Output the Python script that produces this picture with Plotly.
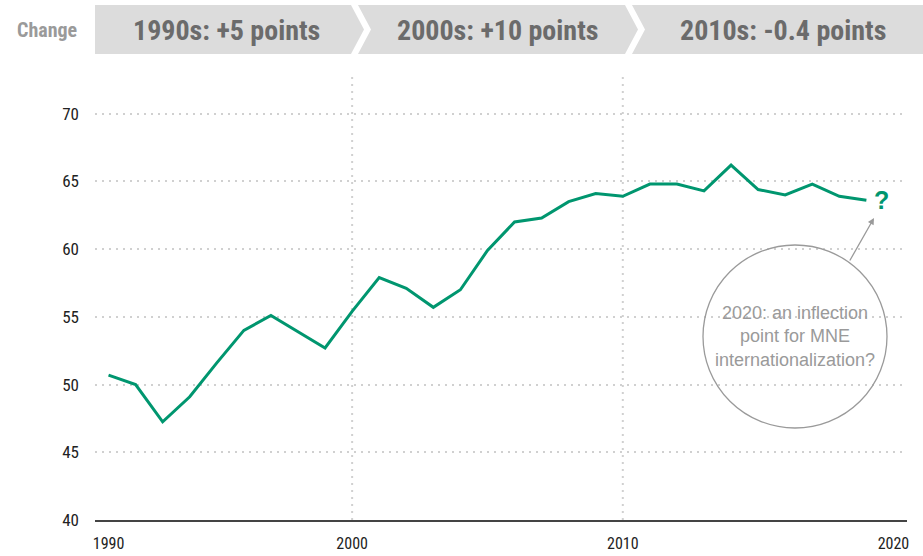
import plotly.graph_objects as go

years = list(range(1991, 2020))
tni = [50.7, 50.0, 47.25, 49.1, 51.6, 54.0, 55.1, 53.9, 52.7, 55.4,
       57.9, 57.1, 55.7, 57.0, 59.9, 62.0, 62.3, 63.5, 64.1, 63.9,
       64.8, 64.8, 64.3, 66.2, 64.4, 64.0, 64.8, 63.9, 63.6]

x_tick_vals = [1991, 2000, 2010, 2020]
x_tick_text = ["1990", "2000", "2010", "2020"]
y_tick_vals = [40, 45, 50, 55, 60, 65, 70]
decade_labels = ["1990s: +5 points", "2000s: +10 points", "2010s: -0.4 points"]
decade_grid = [2000, 2010]
header_label = "Change"
note_text = "2020: an inflection<br>point for MNE<br>internationalization?"

W, H = 923, 556
L, R, T, B = 95, 16, 73, 36
PW, PH = W - L - R, H - T - B

def px(x):
    return (x - L) / PW

def py(y):
    return (H - B - y) / PH

GREEN = "#00966f"
NARROW = "Liberation Sans Narrow, Arial Narrow, Roboto Condensed, Liberation Sans, sans-serif"
REG = "Liberation Sans, Arial, sans-serif"

fig = go.Figure()
fig.add_trace(go.Scatter(x=years, y=tni, mode="lines",
                         line=dict(color=GREEN, width=3), hoverinfo="skip",
                         showlegend=False))

shapes = []
for g in decade_grid:
    shapes.append(dict(type="line", xref="x", yref="paper", x0=g, x1=g, y0=0, y1=1,
                       line=dict(color="#d0d0d0", width=2, dash="2px,5px"), layer="below"))

# header chevrons
top, bot, mid = 5, 54, 29.5
def poly(pts):
    return "M " + " L ".join(f"{px(a):.5f},{py(b):.5f}" for a, b in pts) + " Z"

bands = [
    [(95, top), (351, top), (364, mid), (351, bot), (95, bot)],
    [(358, top), (625, top), (638, mid), (625, bot), (358, bot), (371, mid)],
    [(632, top), (923, top), (923, bot), (632, bot), (645, mid)],
]
for b in bands:
    shapes.append(dict(type="path", xref="paper", yref="paper", path=poly(b),
                       fillcolor="#dcdcdc", line=dict(width=0), layer="above"))

# circle
shapes.append(dict(type="circle", xref="paper", yref="paper",
                   x0=px(703), x1=px(887), y0=py(428), y1=py(245),
                   line=dict(color="#9a9a9a", width=1.3), fillcolor="rgba(0,0,0,0)"))

annotations = []
centers = [226, 497, 783]
for c, t in zip(centers, decade_labels):
    annotations.append(dict(x=px(c), y=py(31), xref="paper", yref="paper", text=t,
                            showarrow=False, xanchor="center", yanchor="middle",
                            font=dict(family=NARROW, size=28, color="#6b6b6b", weight="bold")))
annotations.append(dict(x=px(47), y=py(30), xref="paper", yref="paper", text=header_label,
                        showarrow=False, xanchor="center", yanchor="middle",
                        font=dict(family=NARROW, size=20, color="#9a9a9a", weight="bold")))
annotations.append(dict(x=px(795), y=py(336), xref="paper", yref="paper", text=note_text,
                        showarrow=False, xanchor="center", yanchor="middle", align="center",
                        font=dict(family=REG, size=18, color="#9a9a9a")))
annotations.append(dict(x=px(874), y=py(218), xref="paper", yref="paper", text="",
                        showarrow=True, ax=-25, ay=44, arrowhead=2, arrowsize=1,
                        arrowwidth=1.3, arrowcolor="#9a9a9a"))
annotations.append(dict(x=px(881), y=py(200), xref="paper", yref="paper", text="?",
                        showarrow=False, xanchor="center", yanchor="middle",
                        font=dict(family=REG, size=25, color=GREEN, weight="bold")))

fig.update_layout(
    width=W, height=H,
    margin=dict(l=L, r=R, t=T, b=B, autoexpand=False),
    paper_bgcolor="white", plot_bgcolor="white",
    shapes=shapes, annotations=annotations,
    xaxis=dict(range=[1990.5, 2020.5], tickmode="array", tickvals=x_tick_vals,
               ticktext=x_tick_text, showgrid=False, zeroline=False, automargin=False,
               showline=True, linecolor="#444444", linewidth=2,
               ticks="", ticklabelstandoff=8,
               tickfont=dict(family=NARROW, size=16, color="#222222")),
    yaxis=dict(range=[40, 73], tickmode="array", tickvals=y_tick_vals, automargin=False,
               showgrid=True, gridcolor="#d0d0d0", gridwidth=2, griddash="2px,5px",
               zeroline=False, showline=False, ticks="", ticklabelstandoff=15,
               tickfont=dict(family=NARROW, size=17, color="#222222")),
)

fig.write_html("out.html", config={"displayModeBar": False},
               post_script="document.body.style.margin='0';document.body.style.overflow='hidden';")
